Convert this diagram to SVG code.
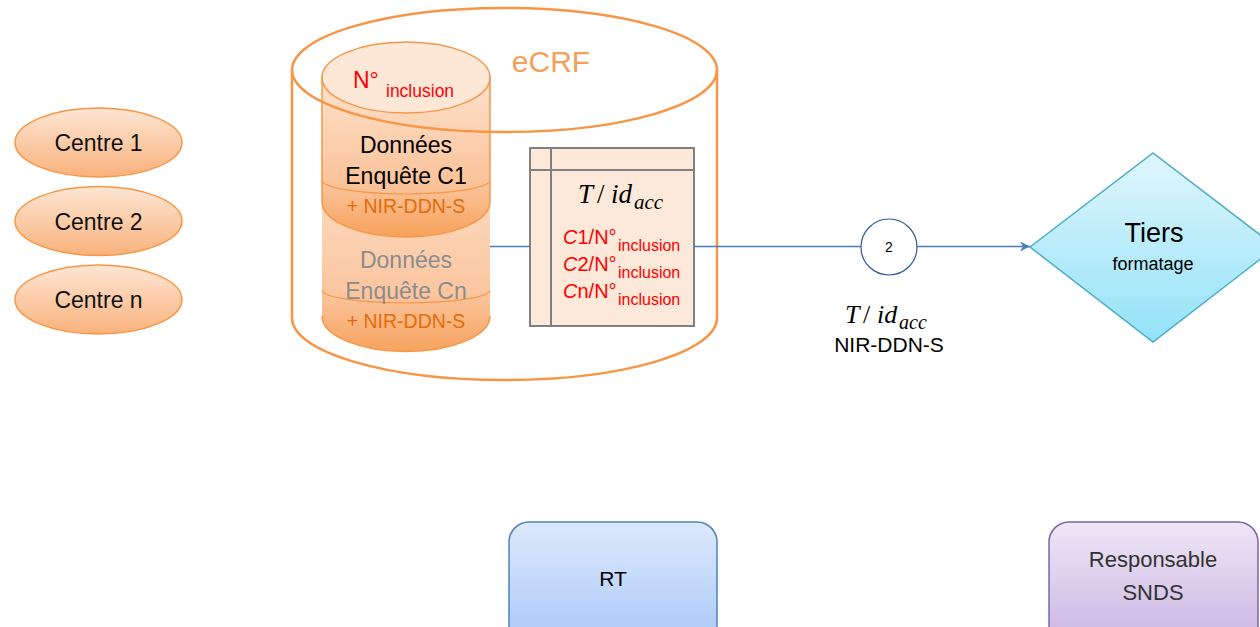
<svg xmlns="http://www.w3.org/2000/svg" width="1260" height="627" viewBox="0 0 1260 627">
<defs>
<linearGradient id="gCentre" x1="0" y1="0" x2="0" y2="1"><stop offset="0" stop-color="#fde6d4"/><stop offset="1" stop-color="#f9b27c"/></linearGradient>
<linearGradient id="gC1" x1="0" y1="0" x2="0" y2="1"><stop offset="0" stop-color="#fde2cc"/><stop offset="0.7" stop-color="#fac197"/><stop offset="1" stop-color="#f7a15a"/></linearGradient>
<linearGradient id="gCn" x1="0" y1="0" x2="0" y2="1"><stop offset="0" stop-color="#fcd8bc"/><stop offset="0.6" stop-color="#fbc6a0"/><stop offset="1" stop-color="#f7a35e"/></linearGradient>
<linearGradient id="gDiamond" x1="0" y1="0" x2="0" y2="1"><stop offset="0" stop-color="#dff6fc"/><stop offset="1" stop-color="#93e2f8"/></linearGradient>
<linearGradient id="gRT" x1="0" y1="0" x2="0" y2="1"><stop offset="0" stop-color="#dde9fc"/><stop offset="1" stop-color="#a6c6f8"/></linearGradient>
<linearGradient id="gSNDS" x1="0" y1="0" x2="0" y2="1"><stop offset="0" stop-color="#eee6f6"/><stop offset="1" stop-color="#c8b2e2"/></linearGradient>
<marker id="arrow" viewBox="0 0 10 10" refX="10" refY="5" markerWidth="10" markerHeight="10" markerUnits="userSpaceOnUse" orient="auto"><path d="M0,0 L10,5 L0,10 L3,5 z" fill="#4a7ebb"/></marker>
</defs>
<style>
.sans{font-family:"Liberation Sans",Arial,sans-serif}
.math{font-family:"Liberation Serif","Times New Roman",serif;font-style:italic}
.orange{stroke:#f79646;stroke-width:2.5;fill:none}
.conn{stroke:#4a7ebb;stroke-width:1.3;fill:none}
.red{fill:#ff0000}
</style>

<g id="centre1">
<ellipse cx="98.5" cy="142.5" rx="83.5" ry="34.5" fill="url(#gCentre)" stroke="#f79646" stroke-width="1.5"/>
<text x="98.5" y="151" class="sans" font-size="23" text-anchor="middle" fill="#111">Centre 1</text>
</g>
<g id="centre2">
<ellipse cx="98.5" cy="221" rx="83.5" ry="34.5" fill="url(#gCentre)" stroke="#f79646" stroke-width="1.5"/>
<text x="98.5" y="230" class="sans" font-size="23" text-anchor="middle" fill="#111">Centre 2</text>
</g>
<g id="centren">
<ellipse cx="98.5" cy="299.5" rx="83.5" ry="34.5" fill="url(#gCentre)" stroke="#f79646" stroke-width="1.5"/>
<text x="98.5" y="308" class="sans" font-size="23" text-anchor="middle" fill="#111">Centre n</text>
</g>

<g id="cylinderCn">
<path d="M322,202 L322,316 A84,35.5 0 0 0 490,316 L490,202 z" fill="url(#gCn)"/>
<path d="M322,316 A84,35.5 0 0 0 490,316" fill="none" stroke="#f79646" stroke-width="1.5"/>
<path d="M322,290 A84,13 0 0 0 490,290" fill="none" stroke="#f79646" stroke-width="1.2"/>
<text x="406" y="268" class="sans" font-size="23" text-anchor="middle" fill="#8c8c8c">Données</text>
<text x="406" y="299" class="sans" font-size="23" text-anchor="middle" fill="#8c8c8c">Enquête Cn</text>
<text x="406" y="328" class="sans" font-size="19.5" text-anchor="middle" fill="#e46c0a">+ NIR-DDN-S</text>
</g>

<g id="cylinderC1">
<path d="M322,77.5 L322,201.5 A84,35.5 0 0 0 490,201.5 L490,77.5 z" fill="url(#gC1)" stroke="#f79646" stroke-width="1.5"/>
<ellipse cx="406" cy="77.5" rx="84" ry="35.5" fill="#fde8d8" stroke="#f79646" stroke-width="1.5"/>
<path d="M322,180 A84,14 0 0 0 490,180" fill="none" stroke="#f79646" stroke-width="1.2"/>
<text x="353" y="88" class="sans red" font-size="23">N°</text>
<text x="386" y="97" class="sans red" font-size="17.5">inclusion</text>
<text x="406" y="153" class="sans" font-size="23" text-anchor="middle" fill="#000">Données</text>
<text x="406" y="184" class="sans" font-size="23" text-anchor="middle" fill="#000">Enquête C1</text>
<text x="406" y="213" class="sans" font-size="19.5" text-anchor="middle" fill="#e46c0a">+ NIR-DDN-S</text>
</g>

<g id="ecrf">
<path d="M292,70 L292,318 A212.5,62 0 0 0 717,318 L717,70" class="orange"/>
<ellipse cx="504.5" cy="70" rx="212.5" ry="62" class="orange"/>
<text x="551" y="72" class="sans" font-size="30" text-anchor="middle" fill="#f5a05a">eCRF</text>
</g>

<g id="table">
<rect x="530" y="148" width="164" height="178" fill="#fde9d9" stroke="#808080" stroke-width="2"/>
<line x1="530" y1="170" x2="694" y2="170" stroke="#808080" stroke-width="2"/>
<line x1="551" y1="148" x2="551" y2="326" stroke="#808080" stroke-width="2"/>
<text class="math" font-size="27" fill="#000"><tspan x="578" y="203">T</tspan><tspan x="597" y="203" font-style="normal">/</tspan><tspan x="611" y="203">id</tspan><tspan x="634" y="209" font-size="21">acc</tspan></text>
<text class="sans red" font-size="20"><tspan x="563" y="244" font-style="italic">C</tspan><tspan>1/N°</tspan><tspan x="618" y="251" font-size="16">inclusion</tspan></text>
<text class="sans red" font-size="20"><tspan x="563" y="271" font-style="italic">C</tspan><tspan>2/N°</tspan><tspan x="618" y="278" font-size="16">inclusion</tspan></text>
<text class="sans red" font-size="20"><tspan x="563" y="298" font-style="italic">C</tspan><tspan>n/N°</tspan><tspan x="618" y="305" font-size="16">inclusion</tspan></text>
</g>

<g id="connectors">
<line x1="490" y1="246.5" x2="530" y2="246.5" class="conn"/>
<line x1="694" y1="246.5" x2="861" y2="246.5" class="conn"/>
<line x1="917" y1="246.5" x2="1030" y2="246.5" class="conn" marker-end="url(#arrow)"/>
</g>

<g id="step2">
<circle cx="889" cy="247" r="28" fill="#ffffff" stroke="#2f5597" stroke-width="1.2"/>
<text x="889" y="252" class="sans" font-size="14" text-anchor="middle" fill="#000">2</text>
<text class="math" font-size="26" fill="#000"><tspan x="845" y="323">T</tspan><tspan x="863" y="323" font-style="normal">/</tspan><tspan x="877" y="323">id</tspan><tspan x="899" y="329" font-size="20">acc</tspan></text>
<text x="889" y="352" class="sans" font-size="21" text-anchor="middle" fill="#000">NIR-DDN-S</text>
</g>

<g id="tiers">
<polygon points="1030,247 1153,153 1276,247 1153,342" fill="url(#gDiamond)" stroke="#4bacc6" stroke-width="1.5"/>
<text x="1154" y="242" class="sans" font-size="27" text-anchor="middle" fill="#000">Tiers</text>
<text x="1153" y="270" class="sans" font-size="18" text-anchor="middle" fill="#000">formatage</text>
</g>

<g id="rt">
<rect x="509" y="522" width="208" height="130" rx="20" ry="20" fill="url(#gRT)" stroke="#4f81bd" stroke-width="1.5"/>
<text x="613" y="586" class="sans" font-size="21" text-anchor="middle" fill="#000">RT</text>
</g>

<g id="snds">
<rect x="1049" y="522" width="209" height="130" rx="20" ry="20" fill="url(#gSNDS)" stroke="#8064a2" stroke-width="1.5"/>
<text x="1153" y="567" class="sans" font-size="22" text-anchor="middle" fill="#333">Responsable</text>
<text x="1153" y="600" class="sans" font-size="22" text-anchor="middle" fill="#333">SNDS</text>
</g>
</svg>
